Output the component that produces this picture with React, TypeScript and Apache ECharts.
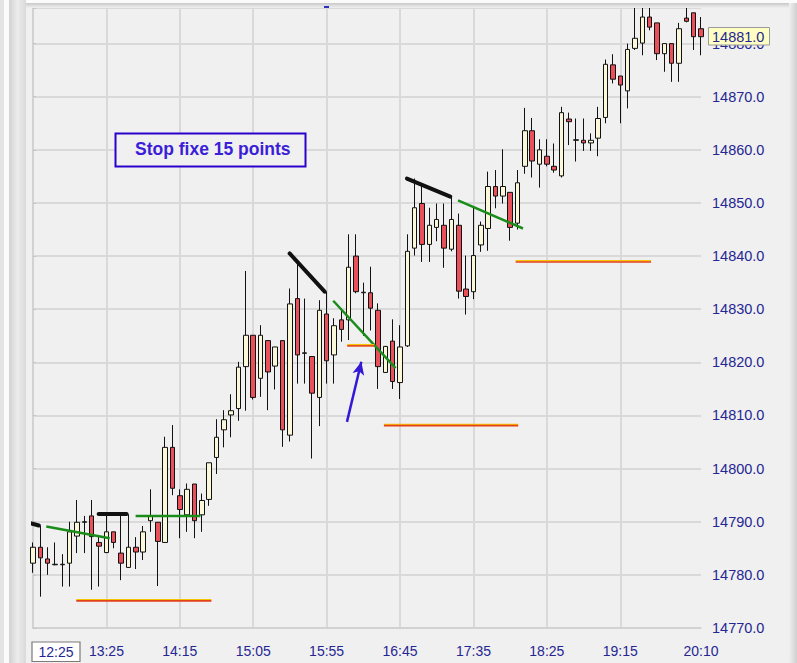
import React, { useEffect, useRef } from "react";
import * as echarts from "echarts";

// ---- data (5-minute candles, 12:35 .. 20:10) ----
const START_MINUTES = 12 * 60 + 35;
const CANDLE_COUNT = 92;
const TIMES: string[] = Array.from({ length: CANDLE_COUNT }, (_, i) => {
  const m = START_MINUTES + i * 5;
  return `${Math.floor(m / 60)}:${String(m % 60).padStart(2, "0")}`;
});
const LABEL_TIMES = ["13:25", "14:15", "15:05", "15:55", "16:45", "17:35", "18:25", "19:15", "20:10"];
const GRID_TIMES = ["12:35", "13:25", "14:15", "15:05", "15:55", "16:45", "17:35", "18:25", "19:15"];

const OPENS = [
  14782.2, 14785.2, 14783.0, 14781.9, 14781.9, 14782.2, 14787.3, 14789.9, 14791.1, 14786.1,
  14784.2, 14788.1, 14784.1, 14781.4, 14785.2, 14784.3, 14790.2, 14789.9, 14786.1, 14804.0,
  14794.9, 14791.3, 14797.1, 14791.3, 14794.2, 14802.1, 14807.3, 14810.1, 14811.3, 14819.2,
  14825.1, 14817.0, 14824.1, 14819.3, 14824.1, 14806.3, 14832.0, 14821.7, 14821.1, 14813.4,
  14829.1, 14821.4, 14828.0, 14828.0, 14840.0, 14833.1, 14833.1, 14829.8, 14818.1, 14824.0,
  14816.2, 14823.1, 14841.5, 14849.9, 14842.2, 14845.4, 14845.8, 14841.3, 14845.8, 14833.8,
  14833.3, 14842.1, 14845.2, 14853.1, 14851.3, 14852.0, 14846.2, 14856.9, 14863.6, 14857.3,
  14858.8, 14856.9, 14855.1, 14865.8, 14861.8, 14861.8, 14861.3, 14862.2, 14866.1, 14876.0,
  14873.9, 14871.1, 14879.1, 14880.1, 14885.0, 14883.9, 14878.1, 14880.0, 14876.3, 14884.8,
  14885.8, 14882.8,
];
const CLOSES = [
  14785.2, 14783.2, 14782.2, 14782.0, 14782.0, 14788.1, 14789.9, 14790.0, 14787.2, 14785.4,
  14788.1, 14786.1, 14782.2, 14785.2, 14784.3, 14788.1, 14791.1, 14786.3, 14804.0, 14796.3,
  14792.3, 14796.1, 14790.2, 14794.0, 14801.1, 14805.9, 14809.2, 14810.9, 14819.1, 14825.1,
  14813.4, 14825.1, 14818.2, 14822.9, 14807.3, 14831.0, 14821.4, 14821.8, 14814.2, 14829.8,
  14820.3, 14826.9, 14826.2, 14837.9, 14833.3, 14833.2, 14830.2, 14819.2, 14823.0, 14816.4,
  14822.9, 14840.9, 14849.1, 14842.2, 14845.8, 14846.9, 14841.5, 14846.9, 14833.4, 14832.4,
  14840.1, 14845.8, 14853.1, 14851.3, 14853.1, 14845.4, 14853.8, 14863.6, 14857.9, 14860.0,
  14857.3, 14856.2, 14867.0, 14865.3, 14861.9, 14861.3, 14861.8, 14865.9, 14876.1, 14873.3,
  14872.2, 14878.9, 14881.0, 14885.0, 14883.1, 14878.1, 14880.0, 14876.3, 14882.8, 14884.2,
  14881.3, 14881.3,
];
const LOWS = [
  14780.4, 14775.9, 14780.0, 14781.8, 14777.8, 14777.8, 14784.1, 14784.1, 14777.2, 14777.8,
  14784.1, 14785.0, 14779.0, 14781.3, 14781.1, 14782.8, 14788.1, 14777.9, 14786.0, 14795.0,
  14786.9, 14788.1, 14786.9, 14788.1, 14793.0, 14799.0, 14804.0, 14805.9, 14809.0, 14810.9,
  14813.0, 14813.5, 14811.0, 14814.9, 14804.1, 14805.1, 14816.0, 14816.0, 14801.9, 14808.0,
  14816.0, 14816.0, 14823.9, 14824.2, 14833.0, 14825.0, 14826.0, 14815.0, 14818.0, 14815.0,
  14813.1, 14822.9, 14840.1, 14838.9, 14838.9, 14842.8, 14837.8, 14840.9, 14832.0, 14829.0,
  14831.9, 14840.8, 14841.0, 14849.0, 14849.9, 14842.9, 14845.0, 14855.5, 14854.8, 14852.9,
  14856.9, 14855.7, 14854.8, 14860.9, 14857.8, 14859.8, 14859.8, 14858.8, 14865.0, 14872.5,
  14865.0, 14867.8, 14878.8, 14877.8, 14882.5, 14876.9, 14874.7, 14872.8, 14872.8, 14884.0,
  14878.8, 14877.8,
];
const HIGHS = [
  14786.1, 14789.2, 14785.2, 14786.1, 14783.9, 14790.0, 14794.1, 14791.1, 14794.1, 14787.2,
  14791.4, 14788.1, 14791.4, 14791.4, 14787.1, 14789.2, 14796.1, 14789.9, 14806.0, 14808.2,
  14796.1, 14797.2, 14797.1, 14795.3, 14801.1, 14809.3, 14811.0, 14814.0, 14820.1, 14837.2,
  14825.1, 14827.0, 14824.1, 14822.9, 14824.1, 14833.9, 14838.6, 14832.0, 14821.1, 14831.7,
  14833.3, 14828.3, 14829.8, 14844.1, 14844.1, 14835.0, 14838.0, 14831.1, 14823.1, 14828.1,
  14827.0, 14844.1, 14854.6, 14853.7, 14849.1, 14849.9, 14849.9, 14851.2, 14848.0, 14840.1,
  14849.1, 14846.5, 14855.9, 14856.2, 14860.1, 14852.0, 14856.2, 14867.9, 14866.0, 14862.0,
  14862.0, 14861.2, 14868.1, 14867.0, 14865.9, 14865.9, 14863.1, 14868.1, 14877.0, 14878.0,
  14873.9, 14880.0, 14887.5, 14887.5, 14887.5, 14883.9, 14880.0, 14880.0, 14883.9, 14887.5,
  14885.8, 14885.0,
];

// annotation lines: [candle index, price]
const STOP_LINES_BLACK = [
  [[-0.55, 14789.8], [0.8, 14789.3]],
  [[8.94, 14791.45], [12.75, 14791.45]],
  [[34.96, 14840.5], [39.73, 14833.3]],
  [[50.94, 14854.6], [56.85, 14851.2]],
];
const TREND_LINES_GREEN = [
  [[1.81, 14789.1], [10.44, 14786.9]],
  [[13.98, 14791.1], [22.8, 14791.1]],
  [[40.9, 14831.6], [49.4, 14818.9]],
  [[57.9, 14850.5], [66.75, 14845.2]],
];
// [from index, to index, price]
const STOP_LEVELS_ORANGE = [
  [5.9, 24.3, 14775.1],
  [42.8, 46.5, 14823.1],
  [47.8, 66.1, 14808.1],
  [65.75, 84.2, 14838.9],
];
const ARROW_POINTS = [[42.77, 14808.8], [44.73, 14820.1]];

const Y_MIN = 14770;
const Y_MAX = 14886.7;
const Y_STEP = 10;
const LAST_PRICE = "14881.0";
const CURSOR_TIME = "12:25";
const NOTE_TEXT = "Stop fixe 15 points";

const NAVY = "#262693";
const GRID_COLOR = "#d9d9d9";
const TOP_Z = 100;

export default function App() {
  const ref = useRef<HTMLDivElement>(null);

  useEffect(() => {
    if (!ref.current) return;
    const chart = echarts.init(ref.current, null, { renderer: "svg" });

    const candles = OPENS.map((o, i) => [o, CLOSES[i], LOWS[i], HIGHS[i]]);

    const lineSeries: any[] = [];
    STOP_LINES_BLACK.forEach((seg) => {
      lineSeries.push({
        type: "line",
        xAxisIndex: 1,
        data: seg,
        showSymbol: false,
        symbol: "none",
        clip: false,
        silent: true,
        z: 6,
        lineStyle: { color: "#111", width: 4, cap: "round" },
      });
    });
    TREND_LINES_GREEN.forEach((seg) => {
      lineSeries.push({
        type: "line",
        xAxisIndex: 1,
        data: seg,
        showSymbol: false,
        symbol: "none",
        silent: true,
        z: 6,
        lineStyle: { color: "#1a8c1a", width: 2.5 },
      });
    });
    const onePixel = (Y_MAX - Y_MIN) / 620;
    STOP_LEVELS_ORANGE.forEach(([a, b, v]) => {
      lineSeries.push({
        type: "line",
        xAxisIndex: 1,
        data: [[a, v + onePixel * 1.2], [b, v + onePixel * 1.2]],
        showSymbol: false,
        symbol: "none",
        silent: true,
        z: 6,
        lineStyle: { color: "#f4c400", width: 1.5 },
      });
      lineSeries.push({
        type: "line",
        xAxisIndex: 1,
        data: [[a, v], [b, v]],
        showSymbol: false,
        symbol: "none",
        silent: true,
        z: 7,
        lineStyle: { color: "#e4401a", width: 1.6 },
      });
    });
    lineSeries.push({
      type: "line",
      xAxisIndex: 1,
      data: [],
      silent: true,
      z: 8,
      markLine: {
        silent: true,
        symbol: ["none", "arrow"],
        symbolSize: [9, 13],
        label: { show: false },
        lineStyle: { color: "#3318d6", width: 2.5, type: "solid" },
        data: [[{ coord: ARROW_POINTS[0] }, { coord: ARROW_POINTS[1] }]],
      },
    });

    const option: any = {
      animation: false,
      backgroundColor: "#f0f0f0",
      grid: { left: 33, right: 96, top: 8, bottom: 35 },
      xAxis: [
        {
          type: "category",
          data: TIMES,
          boundaryGap: false,
          axisLine: { show: true, lineStyle: { color: "#cfcfcf", width: 1.5 } },
          axisTick: { show: false },
          axisLabel: {
            color: NAVY,
            fontSize: 14,
            fontFamily: "Liberation Sans, Arial, sans-serif",
            margin: 16,
            interval: (idx: number) => LABEL_TIMES.includes(TIMES[idx]),
          },
          splitLine: {
            show: true,
            interval: (idx: number) => GRID_TIMES.includes(TIMES[idx]),
            lineStyle: { color: GRID_COLOR, width: 2 },
          },
        },
        { type: "value", min: 0, max: CANDLE_COUNT - 1, show: false },
      ],
      yAxis: {
        type: "value",
        position: "right",
        min: Y_MIN,
        max: Y_MAX,
        interval: Y_STEP,
        axisLine: { show: true, lineStyle: { color: "#cfcfcf", width: 1.5 } },
        axisTick: { show: true, length: 3, lineStyle: { color: "#c4c4c4" } },
        axisLabel: {
          color: NAVY,
          fontSize: 14.5,
          fontFamily: "Liberation Sans, Arial, sans-serif",
          margin: 11,
          formatter: (v: number) =>
            Math.abs(v / Y_STEP - Math.round(v / Y_STEP)) < 1e-6 ? v.toFixed(1) : "",
        },
        splitLine: { show: true, lineStyle: { color: GRID_COLOR, width: 2 } },
      },
      series: [
        {
          type: "candlestick",
          xAxisIndex: 0,
          data: candles,
          barWidth: 5,
          clip: true,
          z: 3,
          itemStyle: {
            color: "#faf8d8",
            color0: "#e8505a",
            borderColor: "#111",
            borderColor0: "#111",
            borderColorDoji: "#111",
            borderWidth: 1,
          },
        },
        ...lineSeries,
      ],
      graphic: [
        // window frame
        { type: "rect", z: TOP_Z, shape: { x: 0, y: 0, width: 4, height: 663 }, style: { fill: "#e4e4e4" }, silent: true },
        { type: "rect", z: TOP_Z, shape: { x: 4, y: 0, width: 5, height: 663 }, style: { fill: "#fbfbfb" }, silent: true },
        {
          type: "rect",
          z: TOP_Z,
          shape: { x: 9, y: 0, width: 17, height: 663 },
          style: {
            fill: new echarts.graphic.LinearGradient(0, 0, 1, 0, [
              { offset: 0, color: "#d2d2d2" },
              { offset: 0.5, color: "#ececec" },
              { offset: 1, color: "#dadada" },
            ]),
          },
          silent: true,
        },
        { type: "rect", z: TOP_Z, shape: { x: 26, y: 0, width: 771, height: 3 }, style: { fill: "#fbfbfb" }, silent: true },
        {
          type: "rect",
          z: TOP_Z,
          shape: { x: 26, y: 3, width: 771, height: 5 },
          style: {
            fill: new echarts.graphic.LinearGradient(0, 0, 0, 1, [
              { offset: 0, color: "#c9c9c9" },
              { offset: 1, color: "#f0f0f0" },
            ]),
          },
          silent: true,
        },
        {
          type: "rect",
          z: TOP_Z,
          shape: { x: 789, y: 3, width: 8, height: 660 },
          style: {
            fill: new echarts.graphic.LinearGradient(0, 0, 1, 0, [
              { offset: 0, color: "#f0f0f0" },
              { offset: 1, color: "#cfcfcf" },
            ]),
          },
          silent: true,
        },
        { type: "rect", z: TOP_Z, shape: { x: 324, y: 6, width: 5, height: 2 }, style: { fill: "#3030c0" }, silent: true },
        // note box
        {
          type: "rect",
          z: TOP_Z,
          silent: true,
          shape: { x: 115.5, y: 133.5, width: 190, height: 33 },
          style: { fill: "#f0f0f0", stroke: "#2a00cc", lineWidth: 2 },
        },
        {
          type: "text",
          z: TOP_Z + 1,
          silent: true,
          x: 135,
          y: 149,
          style: {
            text: NOTE_TEXT,
            fill: "#3b1ed8",
            font: "bold 17.5px 'Liberation Sans', Arial, sans-serif",
            verticalAlign: "middle",
          },
        },
        // last price label
        {
          type: "rect",
          z: TOP_Z,
          silent: true,
          shape: { x: 708.5, y: 27.5, width: 61, height: 17.5 },
          style: { fill: "#ffffc4", stroke: "#9a9a9a", lineWidth: 1 },
        },
        {
          type: "text",
          z: TOP_Z + 1,
          silent: true,
          x: 712,
          y: 36.5,
          style: {
            text: LAST_PRICE,
            fill: NAVY,
            font: "14.5px 'Liberation Sans', Arial, sans-serif",
            verticalAlign: "middle",
          },
        },
        // cursor time label
        {
          type: "rect",
          z: TOP_Z,
          silent: true,
          shape: { x: 32, y: 642, width: 48, height: 19.5 },
          style: { fill: "#ffffff", stroke: "#7a7a7a", lineWidth: 1.2 },
        },
        {
          type: "text",
          z: TOP_Z + 1,
          silent: true,
          x: 56,
          y: 652,
          style: {
            text: CURSOR_TIME,
            fill: NAVY,
            font: "14px 'Liberation Sans', Arial, sans-serif",
            align: "center",
            verticalAlign: "middle",
          },
        },
      ],
    };

    chart.setOption(option);
    return () => chart.dispose();
  }, []);

  return (
    <div
      ref={ref}
      style={{ position: "fixed", left: 0, top: 0, width: 797, height: 663, background: "#f0f0f0" }}
    />
  );
}
